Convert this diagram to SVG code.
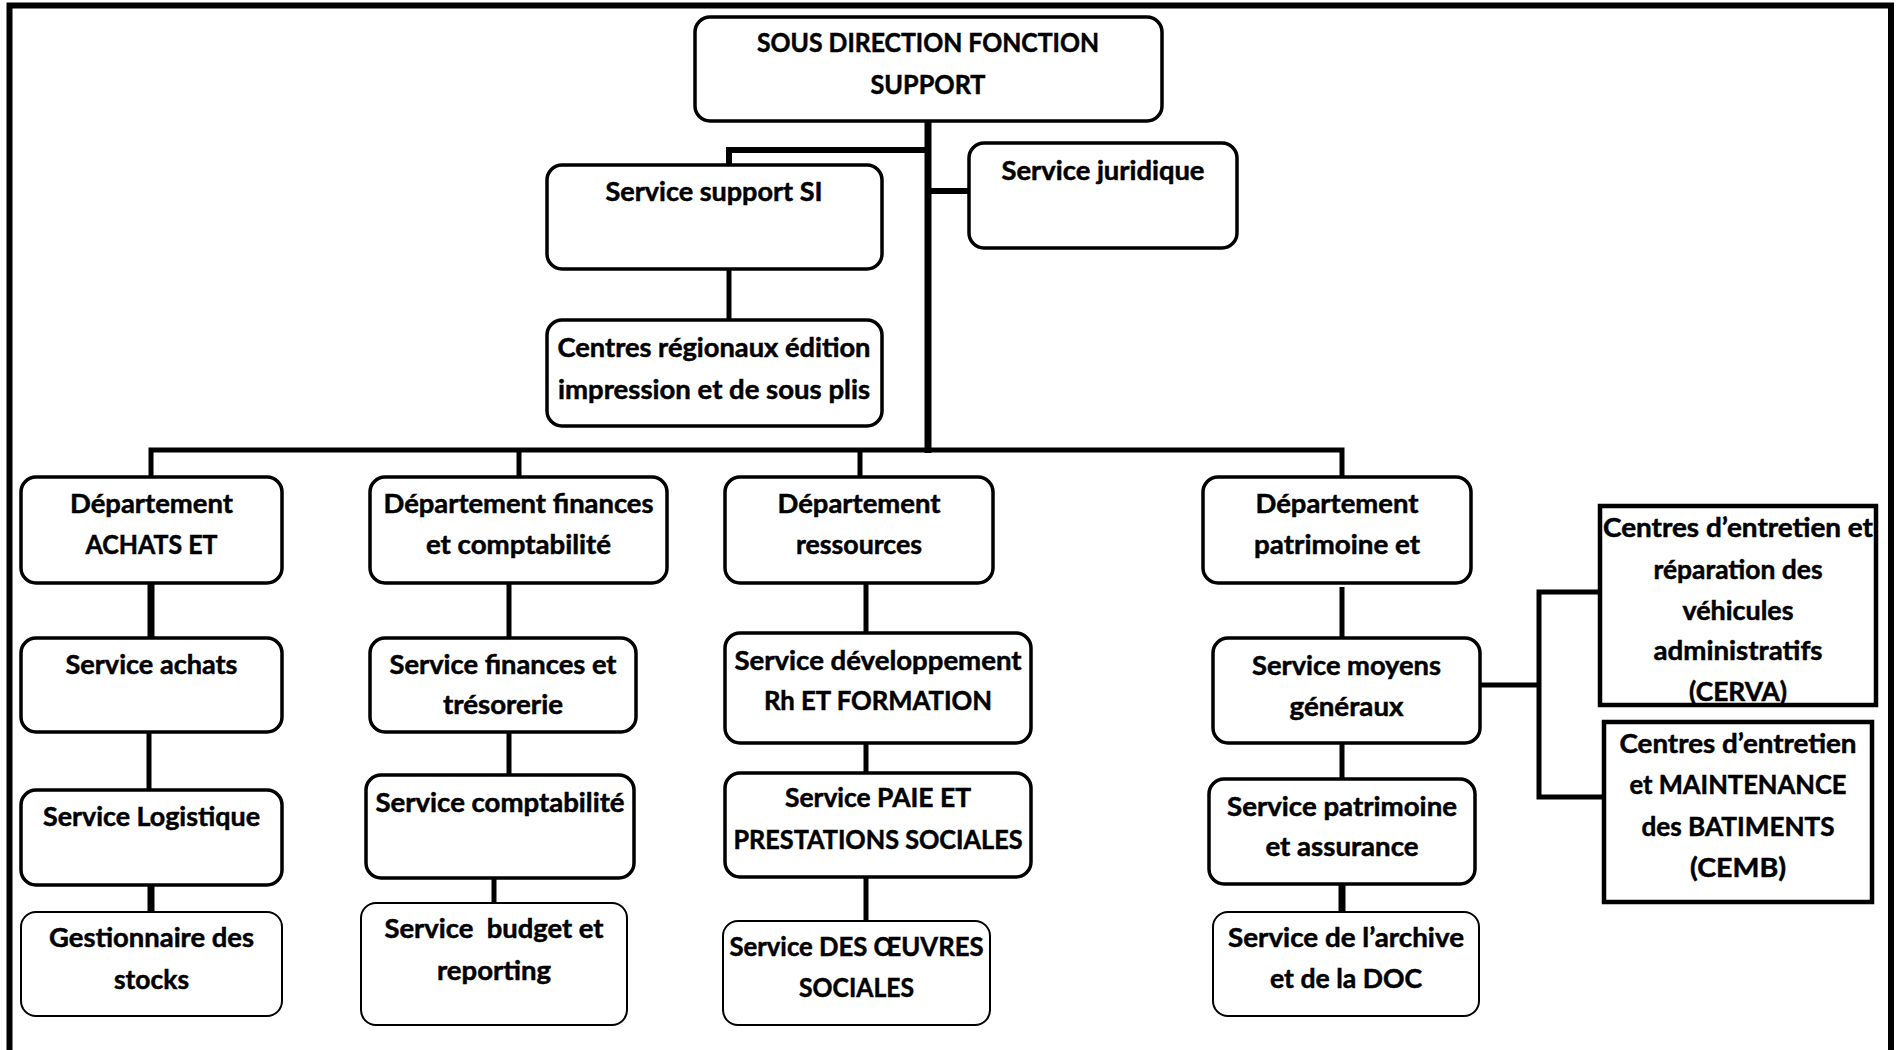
<svg xmlns="http://www.w3.org/2000/svg" width="1904" height="1050" viewBox="0 0 1904 1050">
  <style>
    .n { fill: #fff; stroke: #000; stroke-width: 3.5; }
    .thin { fill: #fff; stroke: #000; stroke-width: 2; }
    .sq { fill: #fff; stroke: #000; stroke-width: 4.5; }
    .t { font-family: Lato, "Open Sans", "Liberation Sans", sans-serif; font-weight: 700; font-size: 26.5px; text-anchor: middle; fill: #000; stroke: #000; stroke-width: 0.5; }
    .pre { white-space: pre; }
    .c { fill: none; stroke: #000; stroke-linecap: butt; stroke-linejoin: miter; }
    .w7 { stroke-width: 7; }
    .w6 { stroke-width: 6; }
    .w5 { stroke-width: 5; }
  </style>

  <rect width="1904" height="1050" fill="#fff"/>
  <!-- outer frame, open at the bottom edge of the page -->
  <rect x="9.5" y="5.5" width="1881.5" height="1080" fill="none" stroke="#000" stroke-width="6"/>

  <g id="connectors">
    <path class="c w7" d="M928,121 V453"/>
    <path class="c w6" d="M928,150 H729 V165"/>
    <path class="c w6" d="M928,191 H969"/>
    <path class="c w5" d="M729,269 V320"/>
    <path class="c w5" d="M151,477 V450 H1342 V477"/>
    <path class="c w5" d="M519,450 V477"/>
    <path class="c w5" d="M860,450 V477"/>
    <!-- Achats column -->
    <path class="c w7" d="M151,583 V638"/>
    <path class="c w5" d="M149,732 V790"/>
    <path class="c w7" d="M151,885 V912"/>
    <!-- Finances column -->
    <path class="c w5" d="M509,583 V638"/>
    <path class="c w5" d="M509,732 V775"/>
    <path class="c w5" d="M494,878 V903"/>
    <!-- Ressources column -->
    <path class="c w5" d="M866,583 V633"/>
    <path class="c w5" d="M866,743 V773"/>
    <path class="c w5" d="M866,877 V921"/>
    <!-- Patrimoine column -->
    <path class="c w5" d="M1342,587 V638"/>
    <path class="c w5" d="M1342,743 V779"/>
    <path class="c w7" d="M1342,884 V912"/>
    <!-- Moyens généraux to the maintenance centres -->
    <path class="c w5" d="M1480,685 H1539"/>
    <path class="c w5" d="M1600,592 H1539 V797 H1604"/>
  </g>

  <g id="sous-direction">
    <rect class="n" x="695" y="17" width="467" height="104" rx="15"/>
    <text class="t" x="928" y="52" textLength="342" lengthAdjust="spacingAndGlyphs">SOUS DIRECTION FONCTION</text>
    <text class="t" x="928" y="94" textLength="115" lengthAdjust="spacingAndGlyphs">SUPPORT</text>
  </g>
  <g id="service-support-si">
    <rect class="n" x="547" y="165" width="335" height="104" rx="15"/>
    <text class="t" x="714" y="201" textLength="217" lengthAdjust="spacingAndGlyphs">Service support SI</text>
  </g>
  <g id="service-juridique">
    <rect class="n" x="969" y="143" width="268" height="105" rx="15"/>
    <text class="t" x="1103" y="180" textLength="203" lengthAdjust="spacingAndGlyphs">Service juridique</text>
  </g>
  <g id="centres-regionaux">
    <rect class="n" x="547" y="320" width="335" height="106" rx="15"/>
    <text class="t" x="714" y="357" textLength="313" lengthAdjust="spacingAndGlyphs">Centres régionaux édition</text>
    <text class="t" x="714" y="399" textLength="312" lengthAdjust="spacingAndGlyphs">impression et de sous plis</text>
  </g>

  <g id="dept-achats">
    <rect class="n" x="21" y="477" width="261" height="106" rx="15"/>
    <text class="t" x="151.5" y="513" textLength="163" lengthAdjust="spacingAndGlyphs">Département</text>
    <text class="t" x="151.5" y="554" textLength="132" lengthAdjust="spacingAndGlyphs">ACHATS ET</text>
  </g>
  <g id="dept-finances">
    <rect class="n" x="370" y="477" width="297" height="106" rx="15"/>
    <text class="t" x="518.5" y="513" textLength="270" lengthAdjust="spacingAndGlyphs">Département finances</text>
    <text class="t" x="518.5" y="554" textLength="185" lengthAdjust="spacingAndGlyphs">et comptabilité</text>
  </g>
  <g id="dept-ressources">
    <rect class="n" x="725" y="477" width="268" height="106" rx="15"/>
    <text class="t" x="859" y="513" textLength="163" lengthAdjust="spacingAndGlyphs">Département</text>
    <text class="t" x="859" y="554" textLength="126" lengthAdjust="spacingAndGlyphs">ressources</text>
  </g>
  <g id="dept-patrimoine">
    <rect class="n" x="1203" y="477" width="268" height="106" rx="15"/>
    <text class="t" x="1337" y="513" textLength="163" lengthAdjust="spacingAndGlyphs">Département</text>
    <text class="t" x="1337" y="554" textLength="166" lengthAdjust="spacingAndGlyphs">patrimoine et</text>
  </g>

  <g id="service-achats">
    <rect class="n" x="21" y="638" width="261" height="94" rx="15"/>
    <text class="t" x="151.5" y="673.5" textLength="172" lengthAdjust="spacingAndGlyphs">Service achats</text>
  </g>
  <g id="service-logistique">
    <rect class="n" x="21" y="790" width="261" height="95" rx="15"/>
    <text class="t" x="151.5" y="826" textLength="217" lengthAdjust="spacingAndGlyphs">Service Logistique</text>
  </g>
  <g id="gestionnaire-stocks">
    <rect class="thin" x="21" y="912" width="261" height="104" rx="15"/>
    <text class="t" x="151.5" y="946.5" textLength="205" lengthAdjust="spacingAndGlyphs">Gestionnaire des</text>
    <text class="t" x="151.5" y="988.5" textLength="75" lengthAdjust="spacingAndGlyphs">stocks</text>
  </g>

  <g id="service-finances">
    <rect class="n" x="370" y="638" width="266" height="94" rx="15"/>
    <text class="t" x="503" y="673.5" textLength="227" lengthAdjust="spacingAndGlyphs">Service finances et</text>
    <text class="t" x="503" y="714" textLength="120" lengthAdjust="spacingAndGlyphs">trésorerie</text>
  </g>
  <g id="service-comptabilite">
    <rect class="n" x="366" y="775" width="268" height="103" rx="15"/>
    <text class="t" x="500" y="811.5" textLength="249" lengthAdjust="spacingAndGlyphs">Service comptabilité</text>
  </g>
  <g id="service-budget">
    <rect class="thin" x="361" y="903" width="266" height="122" rx="15"/>
    <text class="t pre" x="494" y="938" textLength="219" lengthAdjust="spacingAndGlyphs">Service  budget et</text>
    <text class="t" x="494" y="979.5" textLength="114" lengthAdjust="spacingAndGlyphs">reporting</text>
  </g>

  <g id="service-developpement-rh">
    <rect class="n" x="725" y="633" width="306" height="110" rx="15"/>
    <text class="t" x="878" y="669.5" textLength="287" lengthAdjust="spacingAndGlyphs">Service développement</text>
    <text class="t" x="878" y="709.5" textLength="228" lengthAdjust="spacingAndGlyphs">Rh ET FORMATION</text>
  </g>
  <g id="service-paie">
    <rect class="n" x="725" y="773" width="306" height="104" rx="15"/>
    <text class="t" x="878" y="806.5" textLength="186" lengthAdjust="spacingAndGlyphs">Service PAIE ET</text>
    <text class="t" x="878" y="848.5" textLength="289" lengthAdjust="spacingAndGlyphs">PRESTATIONS SOCIALES</text>
  </g>
  <g id="service-oeuvres-sociales">
    <rect class="thin" x="723" y="921" width="267" height="104" rx="15"/>
    <text class="t" x="856.5" y="955.5" textLength="254" lengthAdjust="spacingAndGlyphs">Service DES ŒUVRES</text>
    <text class="t" x="856.5" y="996.5" textLength="115" lengthAdjust="spacingAndGlyphs">SOCIALES</text>
  </g>

  <g id="service-moyens-generaux">
    <rect class="n" x="1213" y="638" width="267" height="105" rx="15"/>
    <text class="t" x="1346.5" y="674.5" textLength="189" lengthAdjust="spacingAndGlyphs">Service moyens</text>
    <text class="t" x="1346.5" y="716" textLength="114" lengthAdjust="spacingAndGlyphs">généraux</text>
  </g>
  <g id="service-patrimoine-assurance">
    <rect class="n" x="1209" y="779" width="266" height="105" rx="15"/>
    <text class="t" x="1342" y="815.5" textLength="230" lengthAdjust="spacingAndGlyphs">Service patrimoine</text>
    <text class="t" x="1342" y="856" textLength="153" lengthAdjust="spacingAndGlyphs">et assurance</text>
  </g>
  <g id="service-archive">
    <rect class="thin" x="1213" y="912" width="266" height="104" rx="15"/>
    <text class="t" x="1346" y="946.5" textLength="236" lengthAdjust="spacingAndGlyphs">Service de l’archive</text>
    <text class="t" x="1346" y="988" textLength="152" lengthAdjust="spacingAndGlyphs">et de la DOC</text>
  </g>

  <g id="cerva">
    <rect class="sq" x="1600" y="506" width="276" height="199"/>
    <text class="t" x="1738" y="537" textLength="270" lengthAdjust="spacingAndGlyphs">Centres d’entretien et</text>
    <text class="t" x="1738" y="578.5" textLength="169" lengthAdjust="spacingAndGlyphs">réparation des</text>
    <text class="t" x="1738" y="619.5" textLength="111" lengthAdjust="spacingAndGlyphs">véhicules</text>
    <text class="t" x="1738" y="659.5" textLength="169" lengthAdjust="spacingAndGlyphs">administratifs</text>
    <text class="t" x="1738" y="700.5" textLength="98" lengthAdjust="spacingAndGlyphs">(CERVA)</text>
  </g>
  <g id="cemb">
    <rect class="sq" x="1604" y="722" width="268" height="180"/>
    <text class="t" x="1738" y="753" textLength="237" lengthAdjust="spacingAndGlyphs">Centres d’entretien</text>
    <text class="t" x="1738" y="793.5" textLength="217" lengthAdjust="spacingAndGlyphs">et MAINTENANCE</text>
    <text class="t" x="1738" y="835.5" textLength="193" lengthAdjust="spacingAndGlyphs">des BATIMENTS</text>
    <text class="t" x="1738" y="876.5" textLength="96" lengthAdjust="spacingAndGlyphs">(CEMB)</text>
  </g>
</svg>
